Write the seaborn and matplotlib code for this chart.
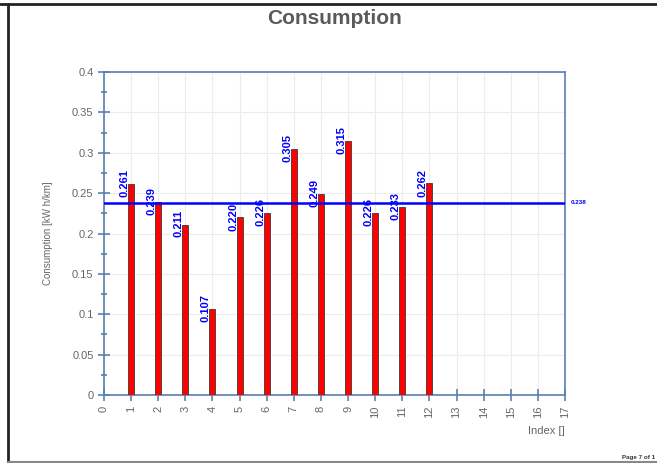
import numpy as np
import pandas as pd
import matplotlib.pyplot as plt
from matplotlib.lines import Line2D
from matplotlib.ticker import MultipleLocator
import seaborn as sns

index = [1, 2, 3, 4, 5, 6, 7, 8, 9, 10, 11, 12]
consumption = [0.261, 0.239, 0.211, 0.107, 0.220, 0.226, 0.305, 0.249, 0.315, 0.226, 0.233, 0.262]
average = 0.238

sns.set_style('white')
plt.rcParams['font.family'] = ['Liberation Sans', 'DejaVu Sans']

df = pd.DataFrame({'Index': index, 'Consumption': consumption})

spine_c = '#5a80b0'
gray_txt = '#666666'

fig = plt.figure(figsize=(6.57, 4.63), dpi=100)
ax = fig.add_axes([104 / 657, 1 - 395 / 463, (565 - 104) / 657, (395 - 72) / 463])

sns.barplot(data=df, x='Index', y='Consumption', native_scale=True, width=0.22,
            color='#ff0000', saturation=1, edgecolor='#3a3a3a', linewidth=0.6, ax=ax, zorder=3)

# value labels sit just left of each bar, centred on its top
for xi, v in zip(index, consumption):
    ax.text(xi - 0.24, v + 0.001, '%.3f' % v, rotation=90, ha='center', va='center',
            color='#0000ff', fontsize=8, fontweight='bold', zorder=5)

ax.axhline(average, color='#0000ff', lw=1.8, zorder=4)
ax.text(17.2, average, '%.3f' % average, color='#0000ff', fontsize=4.5, fontweight='bold',
        va='center', ha='left', clip_on=False)

ax.set_xlim(0, 17)
ax.set_ylim(0, 0.4)
ax.yaxis.set_minor_locator(MultipleLocator(0.025))
ax.set_yticks(np.arange(0, 0.401, 0.05))
ax.set_yticklabels(['0', '0.05', '0.1', '0.15', '0.2', '0.25', '0.3', '0.35', '0.4'])
ax.set_xticks(range(0, 18))
ax.set_xticklabels([str(i) for i in range(0, 18)], rotation=90)

ax.grid(True, which='major', color='#ececec', lw=0.8, zorder=0)
ax.set_axisbelow(True)
for s in ax.spines.values():
    s.set_color(spine_c)
    s.set_linewidth(1.2)
ax.tick_params(axis='both', which='major', direction='inout', length=8, width=1.2,
               color=spine_c, labelcolor=gray_txt, labelsize=8, left=True, bottom=True)
ax.tick_params(axis='y', which='minor', direction='inout', length=5, width=1.2,
               color=spine_c, left=True)

ax.set_ylabel('Consumption [kW h/km]', color=gray_txt, fontsize=7, labelpad=14)
ax.set_xlabel('Index []', color=gray_txt, fontsize=8)
ax.xaxis.set_label_coords(1.0, -0.095)
ax.xaxis.label.set_horizontalalignment('right')

fig.text(335 / 657, 1 - 18 / 463, 'Consumption', ha='center', va='center',
         fontsize=15, fontweight='bold', color='#5a5a5a')
fig.text(655 / 657, 1 - 457 / 463, 'Page 7 of 1', ha='right', va='center',
         fontsize=4.5, fontweight='bold', color='#333333')

# page frame
fig.add_artist(Line2D([0, 1], [1 - 3.5 / 463, 1 - 3.5 / 463], color='#222222', lw=2))
fig.add_artist(Line2D([7.5 / 657, 7.5 / 657], [0, 1 - 3.5 / 463], color='#222222', lw=2))
fig.add_artist(Line2D([7.5 / 657, 1], [1.5 / 463, 1.5 / 463], color='#888888', lw=1.5))

fig.savefig('out.png', dpi=100)
